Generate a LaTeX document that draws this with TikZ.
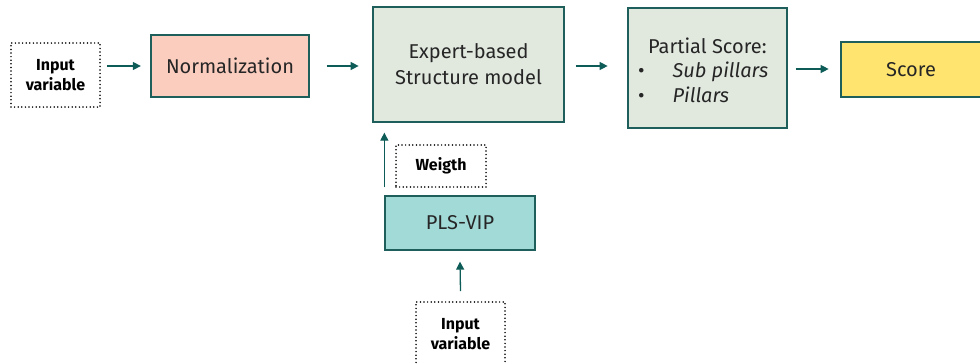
\documentclass[tikz,border=0pt]{standalone}
\usepackage{fontspec}
\setmainfont{Fira Sans}
\usetikzlibrary{arrows.meta,calc}
\definecolor{edge}{HTML}{1F5F5B}
\definecolor{arrowc}{HTML}{0E5C57}
\definecolor{normfill}{HTML}{FBCDBF}
\definecolor{modelfill}{HTML}{E1E9DF}
\definecolor{plsfill}{HTML}{A1DAD7}
\definecolor{scorefill}{HTML}{FFE46F}
\tikzset{
  box/.style={draw=edge, line width=1.3pt, inner sep=0pt, font=\fontsize{20}{26}\selectfont, align=center, text=black!85},
  inbox/.style={draw=black, line width=1.7pt, line cap=round, dash pattern=on 0pt off 3.6pt, inner sep=0pt, font=\fontsize{16}{20}\selectfont\bfseries, align=center},
  flow/.style={draw=arrowc, line width=1.3pt, -{Triangle[length=8pt,width=8pt]}}
}
\begin{document}
\begin{tikzpicture}[x=1pt,y=-1pt]
\useasboundingbox (0,0) rectangle (980,364);
\node[inbox, minimum width=89pt, minimum height=64pt] (in1) at (55.5,75) {Input\\variable};
\node[box, fill=normfill, minimum width=158pt, minimum height=62pt] (norm) at (230,66) {Normalization};
\node[box, fill=modelfill, minimum width=191pt, minimum height=115pt] (model) at (468.5,64.5) {Expert-based\\Structure model};
\node[box, fill=modelfill, minimum width=159pt, minimum height=120pt] (part) at (707.5,68) {};
\node[font=\fontsize{20}{25}\selectfont, text=black!85, anchor=west, inner sep=0pt, align=left] (parttxt) at (638,70)
  {\hspace*{10pt}Partial Score:\\[-1pt]
   •\hspace{28pt}\textit{Sub pillars}\\
   •\hspace{28pt}\textit{Pillars}};
\node[box, fill=scorefill, minimum width=140pt, minimum height=55pt] (score) at (911,69.5) {Score};
\node[inbox, minimum width=90pt, minimum height=42pt] (weight) at (441,166) {Weigth};
\node[box, fill=plsfill, minimum width=150pt, minimum height=54pt] (pls) at (460,223) {PLS-VIP};
\node[inbox, minimum width=89pt, minimum height=64pt] (in2) at (460.5,334) {Input\\variable};

% horizontal flow
\draw[flow] ($(in1.east)+(6,-9)$) -- ++(34,0);
\draw[flow] ($(norm.east)+(17,0)$) -- ++(32,0);
\draw[flow] ($(model.east)+(11,1.5)$) -- ++(32,0);
\draw[flow] ($(part.east)+(8,1)$) -- ++(33,0);
% vertical flow
\draw[flow] ($(pls.north west)+(0,-8)$) -- ($(model.south -| pls.west)+(0,10)$);
\draw[flow] ($(in2.north)+(0,-10)$) -- ($(pls.south)+(0,11)$);
\end{tikzpicture}
\end{document}
